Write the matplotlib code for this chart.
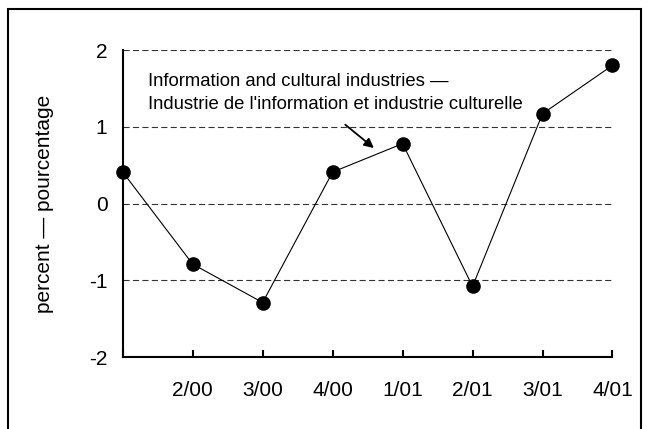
import matplotlib
matplotlib.use("Agg")
import matplotlib.pyplot as plt
from matplotlib.patches import Rectangle

plt.rcParams['font.family'] = ['Liberation Sans', 'DejaVu Sans']

# quarters and percent change
quarters = ['1/00', '2/00', '3/00', '4/00', '1/01', '2/01', '3/01', '4/01']
tick_labels = ['', '2/00', '3/00', '4/00', '1/01', '2/01', '3/01', '4/01']
values = [0.41, -0.79, -1.29, 0.41, 0.78, -1.08, 1.17, 1.80]
y_ticks = [-2, -1, 0, 1, 2]
label_text = "Information and cultural industries \u2014\nIndustrie de l'information et industrie culturelle"

fig = plt.figure(figsize=(6.48, 4.29), dpi=100)
ax = fig.add_axes([0.1894, 0.1678, 0.7558, 0.7156])

x = list(range(len(quarters)))
ax.plot(x, values, color='black', lw=0.8, marker='o', ms=9.5,
        mfc='black', mec='black', clip_on=False, zorder=3)

# dashed gridlines
for yv in y_ticks[1:]:
    ax.axhline(yv, color='#333333', lw=0.8, dashes=(5.5, 3), zorder=1)

ax.set_xlim(0, 7)
ax.set_ylim(-2, 2)
ax.set_xticks(x)
ax.set_xticklabels(tick_labels)
ax.set_yticks(y_ticks)
ax.set_yticklabels([str(v) for v in y_ticks])

ax.spines['top'].set_visible(False)
ax.spines['right'].set_visible(False)
ax.spines['left'].set_linewidth(1.5)
ax.spines['bottom'].set_linewidth(1.5)
ax.tick_params(axis='x', direction='in', length=5, width=1.5, pad=17, labelsize=15)
ax.tick_params(axis='y', length=0, pad=11, labelsize=15)

ax.set_ylabel('percent \u2014 pourcentage', fontsize=15, labelpad=25)

ax.text(0.36, 1.44, label_text, fontsize=13.3, va='center', ha='left', linespacing=1.45)
ax.annotate('', xy=(3.62, 0.70), xytext=(3.15, 1.05),
            arrowprops=dict(arrowstyle='-|>', color='black', lw=1.3, mutation_scale=14))

# outer frame
fig.patches.append(Rectangle((0.0123, -0.05), 0.977, 1.029, transform=fig.transFigure,
                             fill=False, edgecolor='black', lw=1.5))

fig.savefig('out.png', dpi=100)
